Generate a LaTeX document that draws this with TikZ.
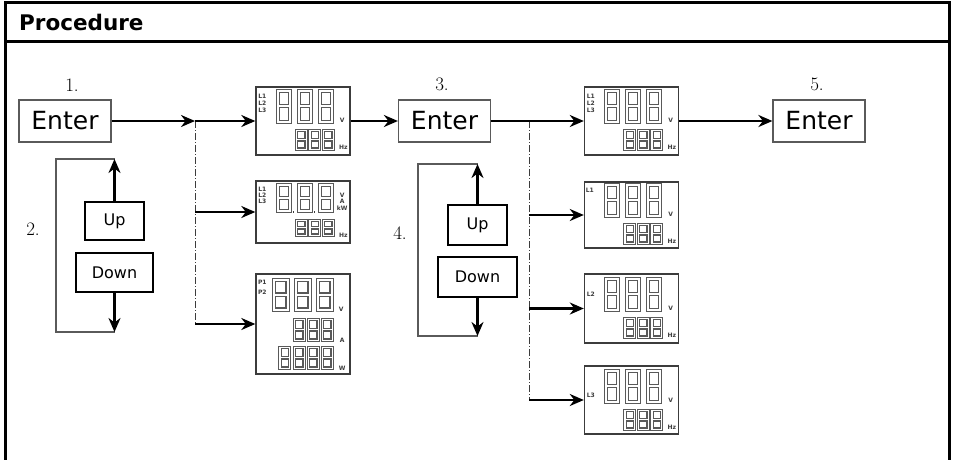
\documentclass[tikz,border=0pt]{standalone}
\usepackage{fontspec}
\setsansfont{DejaVu Sans}
\usetikzlibrary{arrows.meta,positioning}
\definecolor{lcdgray}{HTML}{3C3C3C}
\definecolor{boxgray}{HTML}{5A5A5A}

% one hollow 7-segment digit: left, top, width, height
\newcommand{\segdigit}[4]{%
	\draw[segline] (#1,#2) rectangle ++(#3,#4);
	\draw[segline] ({#1+0.2*#3},{#2+0.2*#3}) rectangle ({#1+0.8*#3},{#2+0.5*#4-0.1*#3});
	\draw[segline] ({#1+0.2*#3},{#2+0.5*#4+0.1*#3}) rectangle ({#1+0.8*#3},{#2+#4-0.2*#3});
}

% voltage / frequency readout inside a display node
\newcommand{\vhzpanel}[2]{%
	\begin{scope}[shift={(#1.north west)}]
		\foreach \dx in {21,42,63} {\segdigit{\dx}{#2}{15}{34}}
		\foreach \dx in {40,53.5,67} {\segdigit{\dx}{#2+40}{12}{21}}
		\node[lcdtext] (#1v) at (87,#2+31) {V};
		\node[lcdtext] (#1hz) at (88,#2+58) {Hz};
	\end{scope}
}

\begin{document}
\begin{tikzpicture}[
		x=1pt,
		y=-1pt,
		>=Stealth,
		frame/.style={line width=3pt,black},
		enterbox/.style={draw=boxgray,line width=1.2pt,minimum width=92pt,minimum height=42pt,inner sep=0pt,font=\sffamily\fontsize{25}{25}\selectfont},
		keybox/.style={draw=black,line width=2.2pt,minimum height=39pt,inner sep=0pt,font=\sffamily\fontsize{16}{16}\selectfont},
		numlabel/.style={font=\fontsize{19}{19}\selectfont,inner sep=0pt,text=black},
		lcd/.style={draw=lcdgray,line width=1.4pt,minimum width=94pt,inner sep=0pt},
		lcdtext/.style={font=\sffamily\bfseries\fontsize{6}{6}\selectfont,inner sep=0pt,text=lcdgray},
		segline/.style={draw=lcdgray!85,line width=1.3pt},
		flow/.style={-{Stealth[length=14pt,width=12pt]},line width=2.4pt},
		guide/.style={line width=0.9pt,lcdgray,dash pattern=on 7pt off 2pt on 1pt off 2pt},
		loopline/.style={line width=1.3pt,boxgray}
	]
	
	\useasboundingbox[fill=white] (0,0) rectangle (954,459);
	
	% Frame and header
	\draw[frame] (5,460) -- (5,2) -- (949,2) -- (949,460);
	\draw[frame] (5,41) -- (949,41);
	\node[anchor=base west,inner sep=0pt,font=\sffamily\bfseries\fontsize{21.5}{21.5}\selectfont] (title) at (19,30) {Procedure};
	
	% Enter keys
	\node[enterbox] (enter1) at (65,121) {Enter};
	\node[enterbox] (enter3) at (444.5,121) {Enter};
	\node[enterbox] (enter5) at (819,121) {Enter};
	
	% Step numbers
	\node[numlabel] (num1) at (72,85) {1.};
	\node[numlabel] (num2) at (33,229) {2.};
	\node[numlabel] (num3) at (442,84) {3.};
	\node[numlabel] (num4) at (400,233) {4.};
	\node[numlabel] (num5) at (817,84) {5.};
	
	% Up / Down keys
	\node[keybox,minimum width=59pt,minimum height=38pt] (up1) at (114.5,221) {Up};
	\node[keybox,minimum width=77pt] (down1) at (114.5,272.5) {Down};
	\node[keybox,minimum width=59pt,minimum height=40pt] (up2) at (477.5,225) {Up};
	\node[keybox,minimum width=79pt,minimum height=40pt] (down2) at (477.5,277) {Down};
	
	% Displays
	\node[lcd,minimum height=68pt] (disp1) at (303,121) {};
	\node[lcd,minimum height=62pt] (disp2) at (303,212) {};
	\node[lcd,minimum height=100pt] (disp3) at (303,324) {};
	\node[lcd,minimum height=68pt] (disp4) at (631.5,121) {};
	\node[lcd,minimum height=66pt] (disp5) at (631.5,215) {};
	\node[lcd,minimum height=69pt] (disp6) at (631.5,308.5) {};
	\node[lcd,minimum height=68pt] (disp7) at (631.5,400) {};
	
	% Display contents
	\vhzpanel{disp1}{3}
	\vhzpanel{disp4}{3}
	\vhzpanel{disp5}{2}
	\vhzpanel{disp6}{4}
	\vhzpanel{disp7}{4}
	\foreach \d in {disp1,disp4} {
		\begin{scope}[shift={(\d.north west)}]
			\node[lcdtext] at (7,10) {L1};
			\node[lcdtext] at (7,17) {L2};
			\node[lcdtext] at (7,24) {L3};
		\end{scope}
	}
	\node[lcdtext,below right=9pt and 6pt of disp5.north west,anchor=center] (d5l1) {L1};
	\node[lcdtext,below right=21pt and 7pt of disp6.north west,anchor=center] (d6l2) {L2};
	\node[lcdtext,below right=30pt and 7pt of disp7.north west,anchor=center] (d7l3) {L3};
	
	\begin{scope}[shift={(disp2.north west)}]
		\foreach \dx in {21,42,63} {\segdigit{\dx}{3}{15}{29}}
		\fill[lcdgray] (37.5,31) rectangle (39,32.5);
		\fill[lcdgray] (58.5,31) rectangle (60,32.5);
		\foreach \dx in {40,53.5,67} {\segdigit{\dx}{39}{12}{17}}
		\node[lcdtext] at (7,9) {L1};
		\node[lcdtext] at (7,15) {L2};
		\node[lcdtext] at (7,21) {L3};
		\node[lcdtext] at (87,15) {V};
		\node[lcdtext] at (87,21.5) {A};
		\node[lcdtext] at (87,28) {kW};
		\node[lcdtext] at (88,55) {Hz};
	\end{scope}
	
	\begin{scope}[shift={(disp3.north west)}]
		\foreach \dx in {17,39,61} {\segdigit{\dx}{5}{17}{33}}
		\foreach \dx in {38,52,66} {\segdigit{\dx}{45}{12}{23}}
		\foreach \dx in {23.5,38,52,66} {\segdigit{\dx}{73}{12}{23}}
		\node[lcdtext] at (7,9) {P1};
		\node[lcdtext] at (7,19) {P2};
		\node[lcdtext] at (86,36) {V};
		\node[lcdtext] at (87,67) {A};
		\node[lcdtext] at (87,95) {W};
	\end{scope}
	
	% Branch points
	\coordinate (split1) at (195,121);
	\coordinate (split2) at (529,121);
	\coordinate (loop1top) at (114.5,159);
	\coordinate (loop1bot) at (114.5,332);
	\coordinate (loop2top) at (477.5,164);
	\coordinate (loop2bot) at (477.5,336);
	
	% Left branch
	\draw[guide] (split1) -- (split1 |- disp3);
	\draw[flow] (enter1) -- (split1);
	\draw[flow] (split1) -- (disp1);
	\draw[flow] (split1 |- disp2) -- (disp2);
	\draw[flow] (split1 |- disp3) -- (disp3);
	\draw[flow] (disp1) -- (enter3);
	
	% Right branch
	\draw[guide] (split2) -- (split2 |- disp7);
	\draw[flow] (enter3) -- (disp4);
	\draw[flow] (split2 |- disp5) -- (disp5);
	\draw[flow] (split2 |- disp6) -- (disp6);
	\draw[flow] (split2 |- disp7) -- (disp7);
	\draw[flow] (disp4) -- (enter5);
	
	% Up / Down loops
	\draw[loopline] (loop1top) -- ++(-58.5,0) |- (loop1bot);
	\draw[flow] (up1) -- (loop1top);
	\draw[flow] (down1) -- (loop1bot);
	\draw[loopline] (loop2top) -- ++(-59.5,0) |- (loop2bot);
	\draw[flow] (up2) -- (loop2top);
	\draw[flow] (down2) -- (loop2bot);
	
\end{tikzpicture}
\end{document}
